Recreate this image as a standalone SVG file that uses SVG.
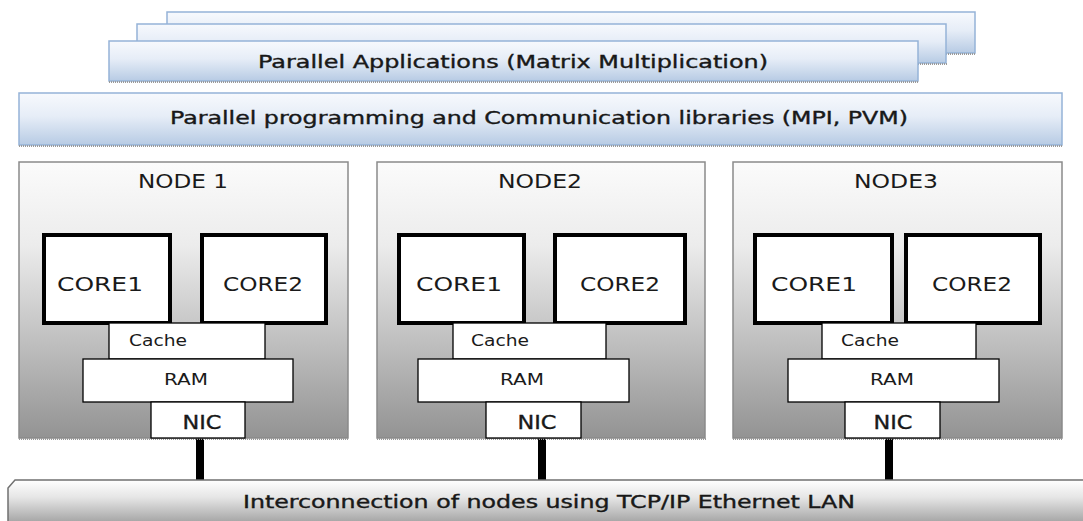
<svg xmlns="http://www.w3.org/2000/svg" width="1083" height="521" viewBox="0 0 1083 521">
<defs>
<linearGradient id="blue" x1="0" y1="0" x2="0" y2="1">
<stop offset="0" stop-color="#f7f9fd"/><stop offset="0.45" stop-color="#e6edf7"/><stop offset="1" stop-color="#b7cbe4"/>
</linearGradient>
<linearGradient id="gray" x1="0" y1="0" x2="0" y2="1">
<stop offset="0" stop-color="#fbfbfb"/><stop offset="0.3" stop-color="#ececec"/><stop offset="1" stop-color="#939393"/>
</linearGradient>
<linearGradient id="lan" x1="0" y1="0" x2="0" y2="1">
<stop offset="0" stop-color="#ffffff"/><stop offset="0.4" stop-color="#e6e6e6"/><stop offset="1" stop-color="#a3a3a3"/>
</linearGradient>
</defs>
<style>
.bl{fill:url(#blue);stroke:#95b3d7;stroke-width:1.5}
.sh{stroke:#9a9a9a;stroke-width:2;stroke-dasharray:1 1;fill:none}
.nd{fill:url(#gray);stroke:#8a8a8a;stroke-width:1.5}
.core{fill:#fff;stroke:#000;stroke-width:4}
.wb{fill:#fff;stroke:#000;stroke-width:1.3}
.t{font-family:"DejaVu Sans",Verdana,sans-serif;fill:#1a1a1a;text-anchor:middle}
.b{stroke:#111;stroke-width:0.35}
.con{stroke:#000;stroke-width:8;stroke-linecap:round}
</style>
<rect width="1083" height="521" fill="#fff"/>
<g id="apps">
<rect class="bl" x="167" y="12" width="808" height="41"/>
<line class="sh" x1="946" y1="54" x2="976" y2="54"/>
<rect class="bl" x="137" y="24" width="809" height="39"/>
<line class="sh" x1="918" y1="64" x2="947" y2="64"/>
<rect class="bl" x="109" y="41" width="809" height="40"/>
<line class="sh" x1="109" y1="82" x2="919" y2="82"/>
<text class="t b" x="513" y="68" font-size="17" textLength="510" lengthAdjust="spacingAndGlyphs">Parallel Applications (Matrix Multiplication)</text>
</g>
<g id="libs">
<rect class="bl" x="19" y="93" width="1043" height="52"/>
<line class="sh" x1="19" y1="146" x2="1063" y2="146"/>
<text class="t b" x="539" y="124" font-size="17" textLength="738" lengthAdjust="spacingAndGlyphs">Parallel programming and Communication libraries (MPI, PVM)</text>
</g>
<g id="connectors">
<line class="con" x1="200" y1="440" x2="200" y2="480"/>
<line class="con" x1="542" y1="440" x2="542" y2="480"/>
<line class="con" x1="889" y1="440" x2="889" y2="480"/>
</g>
<g id="node1">
<rect class="nd" x="19" y="162" width="329" height="276"/>
<line class="sh" x1="19" y1="439" x2="349" y2="439"/>
<text class="t" x="183" y="188" font-size="19" textLength="90" lengthAdjust="spacingAndGlyphs">NODE 1</text>
<rect class="core" x="44" y="235" width="126" height="88"/>
<text class="t" x="100" y="291" font-size="20" textLength="86" lengthAdjust="spacingAndGlyphs">CORE1</text>
<rect class="core" x="202" y="235" width="124" height="88"/>
<text class="t" x="263" y="291" font-size="20" textLength="80" lengthAdjust="spacingAndGlyphs">CORE2</text>
<rect class="wb" x="109" y="323" width="156" height="36"/>
<text class="t" x="158" y="346" font-size="15" textLength="58" lengthAdjust="spacingAndGlyphs">Cache</text>
<rect class="wb" x="83" y="359" width="210" height="43"/>
<text class="t" x="186" y="385" font-size="15" textLength="44" lengthAdjust="spacingAndGlyphs">RAM</text>
<rect class="wb" x="151" y="402" width="94" height="36"/>
<text class="t b" x="202" y="429" font-size="19" textLength="39" lengthAdjust="spacingAndGlyphs">NIC</text>
</g>
<g id="node2">
<rect class="nd" x="377" y="162" width="328" height="276"/>
<line class="sh" x1="377" y1="439" x2="706" y2="439"/>
<text class="t" x="540" y="188" font-size="19" textLength="84" lengthAdjust="spacingAndGlyphs">NODE2</text>
<rect class="core" x="399" y="235" width="125" height="88"/>
<text class="t" x="459" y="291" font-size="20" textLength="86" lengthAdjust="spacingAndGlyphs">CORE1</text>
<rect class="core" x="555" y="235" width="130" height="88"/>
<text class="t" x="620" y="291" font-size="20" textLength="80" lengthAdjust="spacingAndGlyphs">CORE2</text>
<rect class="wb" x="453" y="323" width="153" height="36"/>
<text class="t" x="500" y="346" font-size="15" textLength="58" lengthAdjust="spacingAndGlyphs">Cache</text>
<rect class="wb" x="418" y="359" width="211" height="43"/>
<text class="t" x="522" y="385" font-size="15" textLength="44" lengthAdjust="spacingAndGlyphs">RAM</text>
<rect class="wb" x="486" y="402" width="95" height="36"/>
<text class="t b" x="537" y="429" font-size="19" textLength="39" lengthAdjust="spacingAndGlyphs">NIC</text>
</g>
<g id="node3">
<rect class="nd" x="733" y="162" width="329" height="276"/>
<line class="sh" x1="733" y1="439" x2="1063" y2="439"/>
<text class="t" x="896" y="188" font-size="19" textLength="84" lengthAdjust="spacingAndGlyphs">NODE3</text>
<rect class="core" x="755" y="235" width="137" height="88"/>
<text class="t" x="814" y="291" font-size="20" textLength="86" lengthAdjust="spacingAndGlyphs">CORE1</text>
<rect class="core" x="906" y="235" width="134" height="88"/>
<text class="t" x="972" y="291" font-size="20" textLength="80" lengthAdjust="spacingAndGlyphs">CORE2</text>
<rect class="wb" x="822" y="323" width="154" height="36"/>
<text class="t" x="870" y="346" font-size="15" textLength="58" lengthAdjust="spacingAndGlyphs">Cache</text>
<rect class="wb" x="788" y="359" width="211" height="43"/>
<text class="t" x="892" y="385" font-size="15" textLength="44" lengthAdjust="spacingAndGlyphs">RAM</text>
<rect class="wb" x="845" y="402" width="95" height="36"/>
<text class="t b" x="893" y="429" font-size="19" textLength="39" lengthAdjust="spacingAndGlyphs">NIC</text>
</g>
<g id="lan">
<path d="M8,523 L8,488 L15,480 L1090,480 L1090,523 Z" fill="url(#lan)" stroke="#707070" stroke-width="1.5"/>
<text class="t b" x="549" y="508" font-size="17" textLength="612" lengthAdjust="spacingAndGlyphs">Interconnection of nodes using TCP/IP Ethernet LAN</text>
</g>
</svg>
